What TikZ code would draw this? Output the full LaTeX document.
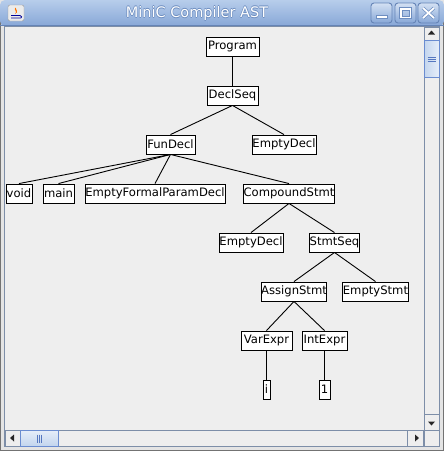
\documentclass[tikz,border=0pt]{standalone}
\usepackage{fontspec}
\setmainfont{DejaVu Sans}
\usetikzlibrary{shapes.geometric}
\definecolor{panelbg}{HTML}{EEEEEE}
\definecolor{framebg}{HTML}{E4E4E4}
\definecolor{titletop}{HTML}{B7CDEB}
\definecolor{titlebot}{HTML}{87A7D7}
\definecolor{titleedge}{HTML}{6584B6}
\definecolor{paneledge}{HTML}{7D8EA8}
\definecolor{thumbedge}{HTML}{6A8CD0}
\definecolor{thumbtop}{HTML}{E6EEF9}
\definecolor{thumbbot}{HTML}{C3D5EE}
\definecolor{gripcol}{HTML}{5577C0}
\definecolor{titletext}{HTML}{FFFFFF}
\definecolor{titleshadow}{HTML}{6E8EC0}
\tikzset{
  ast/.style={draw=black, fill=white, line width=0.9pt, inner sep=0pt,
    minimum height=19pt, font=\fontsize{11.6}{13}\selectfont, text=black},
  edge/.style={draw=black, line width=0.9pt},
  winbtn/.style={draw=titleedge, line width=0.9pt, rounded corners=3pt,
    top color=titletop!60!white, bottom color=titlebot},
  glyph/.style={draw=titleshadow, fill=white, line width=0.6pt},
  sbtrack/.style={fill=panelbg, draw=paneledge, line width=0.8pt},
  tri/.style={fill=black!85}
}
\begin{document}
\begin{tikzpicture}[x=1pt,y=-1pt]
\useasboundingbox (0,0) rectangle (444,451);
% window frame
\fill[framebg] (0,0) rectangle (444,451);
\draw[black!55, line width=1pt] (0.5,8) -- (0.5,450.5) -- (443.5,450.5) -- (443.5,8);
% title bar
\shade[top color=titletop, bottom color=titlebot, rounded corners=5pt]
  (0,26) -- (0,0) -- (444,0) -- (444,26) -- cycle;
\draw[titleedge, line width=0.8pt] (0,25.6) -- (444,25.6);
% icon
\node[draw=black!40, fill=white!92!black, rounded corners=2pt, minimum size=16pt, inner sep=0pt] (icon) at (16,13) {};
\fill[orange!90!red] (15.5,7.5) .. controls (13,10) and (18,11) .. (15,14) .. controls (19,12) and (16,10) .. (15.5,7.5) -- cycle;
\draw[blue!60!black, line width=0.8pt] (11,15.5) -- (20,15.5);
\draw[blue!60!black, line width=0.8pt] (11,18) -- (21,18) (20,15.5) .. controls (22,15.5) and (22,18) .. (21,18);
% title text
\foreach \dx/\dy in {-0.6/0,0.6/0,0/-0.6,0/0.6}
  \node[text=titleshadow, font=\fontsize{14.5}{16}\selectfont, inner sep=0pt] at (197+\dx,13.5+\dy) {MiniC Compiler AST};
\node[text=titletext, font=\fontsize{14.5}{16}\selectfont, inner sep=0pt] (title) at (197,13.5) {MiniC Compiler AST};
% window buttons
\draw[winbtn] (371,3) rectangle (392,23);
\draw[glyph] (376,15.5) rectangle (387,18.5);
\draw[winbtn] (395,3) rectangle (416,23);
\draw[glyph, even odd rule] (399.5,7.5) rectangle (411.5,18.5) (402,10.5) rectangle (409,16.5);
\draw[winbtn] (418,3) rectangle (439,23);
\draw[titleshadow, line width=3.2pt] (423,8) -- (434,18) (434,8) -- (423,18);
\draw[white, line width=1.8pt] (423,8) -- (434,18) (434,8) -- (423,18);
% content panel
\draw[fill=panelbg, draw=paneledge, line width=1pt] (4.5,26.5) rectangle (439.5,446.5);
% vertical scrollbar
\draw[sbtrack] (424,27) rectangle (439,430);
\draw[sbtrack] (424,27) rectangle (439,40);
\fill[tri] (431.5,30.5) -- (435,34.5) -- (428,34.5) -- cycle;
\shade[left color=thumbbot, right color=thumbtop] (424,40) rectangle (439,77);
\draw[thumbedge, line width=0.9pt] (424,40) rectangle (439,77);
\foreach \yy in {57.5,59.5,61.5} \draw[gripcol, line width=0.7pt] (427.5,\yy) -- (435.5,\yy);
\draw[sbtrack] (424,414) rectangle (439,430);
\fill[tri] (431.5,425.5) -- (435,421.5) -- (428,421.5) -- cycle;
% horizontal scrollbar
\draw[sbtrack] (5,430) rectangle (424,446);
\draw[sbtrack] (5,430) rectangle (20,446);
\fill[tri] (10,438) -- (14,434.5) -- (14,441.5) -- cycle;
\shade[top color=thumbtop, bottom color=thumbbot] (20,430) rectangle (58,446);
\draw[thumbedge, line width=0.9pt] (20,430) rectangle (58,446);
\foreach \xx in {37.7,39.7,41.7} \draw[gripcol, line width=0.7pt] (\xx,434.5) -- (\xx,442.5);
\draw[sbtrack] (407,430) rectangle (423,446);
\fill[tri] (419,438) -- (415,434.5) -- (415,441.5) -- cycle;
\draw[sbtrack] (424,430) rectangle (439,446);
% AST nodes
\node[ast, minimum width=53pt] (prog) at (232.5,46.5) {Program};
\node[ast, minimum width=51pt] (dseq) at (232.5,95.5) {DeclSeq};
\node[ast, minimum width=49pt] (fdecl) at (170.5,144.5) {FunDecl};
\node[ast, minimum width=64pt] (edecl1) at (284,144.5) {EmptyDecl};
\node[ast, minimum width=26pt] (void) at (19,193.5) {void};
\node[ast, minimum width=31pt] (main) at (58.5,193.5) {main};
\node[ast, minimum width=140pt] (efpd) at (155,193.5) {EmptyFormalParamDecl};
\node[ast, minimum width=90pt] (cstmt) at (289,193.5) {CompoundStmt};
\node[ast, minimum width=64pt] (edecl2) at (251,242.5) {EmptyDecl};
\node[ast, minimum width=49pt] (sseq) at (334.5,242.5) {StmtSeq};
\node[ast, minimum width=64pt] (assign) at (294,291.5) {AssignStmt};
\node[ast, minimum width=65pt] (estmt) at (375.5,291.5) {EmptyStmt};
\node[ast, minimum width=51pt] (varx) at (266.5,340.5) {VarExpr};
\node[ast, minimum width=45pt] (intx) at (324.5,340.5) {IntExpr};
\node[ast, minimum width=7pt] (ivar) at (266.5,389.5) {i};
\node[ast, minimum width=11pt] (one) at (324.5,389.5) {1};
% edges
\foreach \p/\c in {prog/dseq, dseq/fdecl, dseq/edecl1, fdecl/void, fdecl/main, fdecl/efpd, fdecl/cstmt,
  cstmt/edecl2, cstmt/sseq, sseq/assign, sseq/estmt, assign/varx, assign/intx, varx/ivar, intx/one}
  \draw[edge] (\p.south) -- (\c.north);
\end{tikzpicture}
\end{document}
